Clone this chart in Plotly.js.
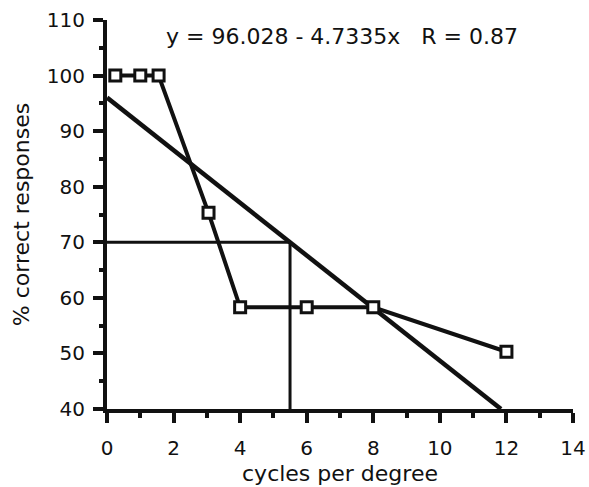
<!DOCTYPE html>
<html>
<head>
<meta charset="utf-8">
<script src="https://cdn.plot.ly/plotly-3.0.1.min.js"></script>
<style>html,body{margin:0;padding:0;background:#fff;}#chart{width:589px;height:487px;}</style>
</head>
<body>
<div id="chart"></div>
<script>
// data
const cyclesPerDegree = [0.25, 1.0, 1.55, 3.05, 4.0, 6.0, 8.0, 12.0];
const percentCorrect = [100, 100, 100, 75.3, 58.3, 58.3, 58.3, 50.3];
const fitIntercept = 96.028;
const fitSlope = -4.7335;
const fitR = 0.87;
const thresholdY = 70;
const axisMinY = 40;

const fitEndX = (axisMinY - fitIntercept) / fitSlope;
const thresholdX = (thresholdY - fitIntercept) / fitSlope;

const font = "DejaVu Sans, Arial, sans-serif";

const traces = [
  { x: [0, thresholdX], y: [thresholdY, thresholdY], mode: 'lines',
    line: { color: '#111', width: 3 }, hoverinfo: 'skip', cliponaxis: false },
  { x: [thresholdX, thresholdX], y: [thresholdY, axisMinY], mode: 'lines',
    line: { color: '#111', width: 3 }, hoverinfo: 'skip', cliponaxis: false },
  { x: [0, fitEndX], y: [fitIntercept, fitIntercept + fitSlope * fitEndX], mode: 'lines',
    line: { color: '#111', width: 4.5 }, cliponaxis: false },
  { x: cyclesPerDegree, y: percentCorrect, mode: 'lines+markers',
    line: { color: '#111', width: 4 },
    marker: { symbol: 'square', size: 11, color: '#fff', line: { color: '#111', width: 3 } },
    cliponaxis: false }
];

const layout = {
  width: 589, height: 487,
  margin: { l: 107, r: 16, t: 20, b: 78 },
  paper_bgcolor: '#fff', plot_bgcolor: '#fff',
  showlegend: false,
  font: { family: font, color: '#111', size: 20 },
  xaxis: {
    range: [0, 14], tickvals: [0, 2, 4, 6, 8, 10, 12, 14],
    ticks: 'outside', ticklen: 10, tickwidth: 4, tickcolor: '#111',
    minor: { dtick: 1, ticks: 'outside', ticklen: 5, tickwidth: 4, tickcolor: '#111' },
    showline: true, linecolor: '#111', linewidth: 4,
    showgrid: false, zeroline: false,
    tickfont: { size: 20 }, ticklabelstandoff: 8,
    title: { text: 'cycles per degree', font: { size: 22 }, standoff: 8 }
  },
  yaxis: {
    range: [40, 110], tickvals: [40, 50, 60, 70, 80, 90, 100, 110],
    ticks: 'outside', ticklen: 10, tickwidth: 4, tickcolor: '#111',
    minor: { dtick: 5, ticks: 'outside', ticklen: 4, tickwidth: 4, tickcolor: '#111' },
    showline: true, linecolor: '#111', linewidth: 4,
    showgrid: false, zeroline: false,
    tickfont: { size: 20 }, ticklabelstandoff: 4,
    title: { text: '% correct responses', font: { size: 22 }, standoff: 12 }
  },
  annotations: [{
    xref: 'paper', yref: 'paper', x: 0.505, y: 0.958, xanchor: 'center', yanchor: 'middle',
    showarrow: false,
    text: 'y = ' + fitIntercept.toFixed(3) + ' - ' + Math.abs(fitSlope).toFixed(4) + 'x&nbsp;&nbsp;&nbsp;R = ' + fitR.toFixed(2),
    font: { size: 22, family: font, color: '#111' }
  }]
};

Plotly.newPlot('chart', traces, layout, { displayModeBar: false, staticPlot: true });
</script>
</body>
</html>
